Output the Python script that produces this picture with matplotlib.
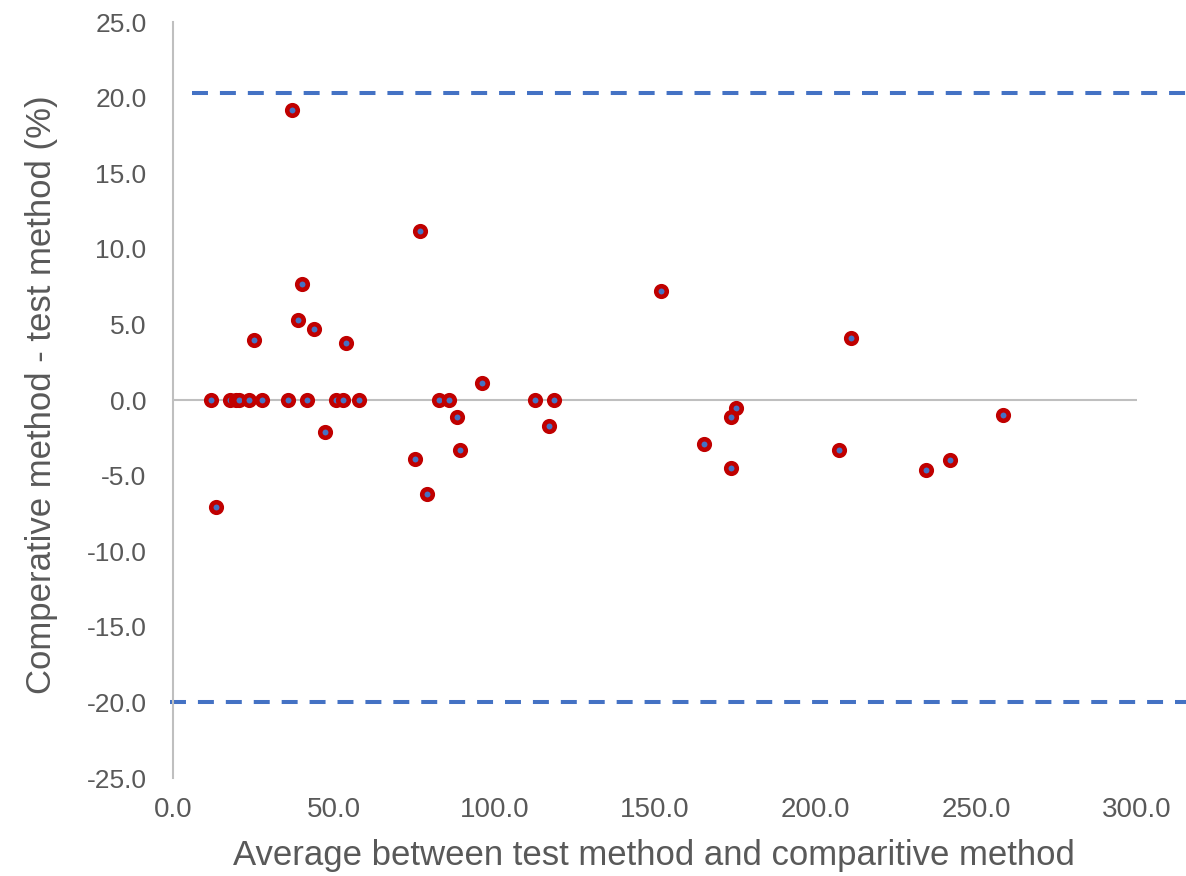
import matplotlib
matplotlib.use("Agg")
import matplotlib.pyplot as plt

plt.rcParams["lines.scale_dashes"] = False

# ---- data ----
avg_x = [11.7, 17.7, 19.6, 20.6, 23.7, 27.7, 35.8, 41.8, 50.6, 52.8, 57.9,
         82.7, 85.8, 112.7, 118.7,
         36.9, 76.8, 40.2, 38.8, 43.8, 25.3, 53.7, 96.2, 47.4, 13.3, 88.4,
         75.2, 89.3, 79.1, 116.9, 151.9, 210.9, 175.3, 173.7, 165.4, 173.7,
         207.3, 234.3, 241.8, 258.4]
diff_y = [0.0, 0.0, 0.0, 0.0, 0.0, 0.0, 0.0, 0.0, 0.0, 0.0, 0.0,
          0.0, 0.0, 0.0, 0.0,
          19.2, 11.2, 7.7, 5.3, 4.7, 4.0, 3.8, 1.1, -2.1, -7.1, -1.1,
          -3.9, -3.3, -6.2, -1.7, 7.2, 4.1, -0.5, -1.1, -2.9, -4.5,
          -3.3, -4.6, -4.0, -1.0]
upper_limit = 20.3
lower_limit = -20.0
x_ticks = [0, 50, 100, 150, 200, 250, 300]
y_ticks = [-25, -20, -15, -10, -5, 0, 5, 10, 15, 20, 25]

font = "Liberation Sans"

W, H = 1186, 876
fig = plt.figure(figsize=(W / 100, H / 100), dpi=100)
ax = fig.add_axes([173 / W, 1 - 778 / H, (1137 - 173) / W, (778 - 22) / H])

text_col = "#595959"
axis_col = "#BFBFBF"

ax.set_xlim(0, 300)
ax.set_ylim(-25, 25)

for s in ["top", "right", "bottom"]:
    ax.spines[s].set_visible(False)
ax.spines["left"].set_color(axis_col)
ax.spines["left"].set_linewidth(1.5)
ax.axhline(0, color=axis_col, lw=1.5, zorder=1)

ax.set_xticks(x_ticks)
ax.set_xticklabels([f"{v:.1f}" for v in x_ticks], fontfamily=font, fontsize=20, color=text_col)
ax.set_yticks(y_ticks)
ax.set_yticklabels([f"{v:.1f}" for v in y_ticks], fontfamily=font, fontsize=19, color=text_col)
ax.tick_params(axis="x", length=0, pad=14)
ax.tick_params(axis="y", length=0, pad=19)

blue = "#4472C4"
ax.plot([6, 325], [upper_limit, upper_limit], color=blue, lw=2.9, clip_on=False,
        dashes=(11.5, 8.6), dash_capstyle="butt", zorder=2)
ax.plot([-1, 325], [lower_limit, lower_limit], color=blue, lw=2.9, clip_on=False,
        dashes=(11.5, 8.6), dash_capstyle="butt", zorder=2)

ax.plot(avg_x, diff_y, linestyle="none", marker="o", markersize=7.6,
        markerfacecolor=blue, markeredgecolor="#C00000", markeredgewidth=3.3, zorder=3)

fig.text(42 / W, 1 - 395 / H, "Comperative method - test method (%)", rotation=90,
         ha="center", va="center", fontfamily=font, fontsize=25, color=text_col)
fig.text(654 / W, 1 - 855 / H, "Average between test method and comparitive method",
         ha="center", va="center", fontfamily=font, fontsize=25, color=text_col)

fig.savefig("out.png", dpi=100, facecolor="white")
